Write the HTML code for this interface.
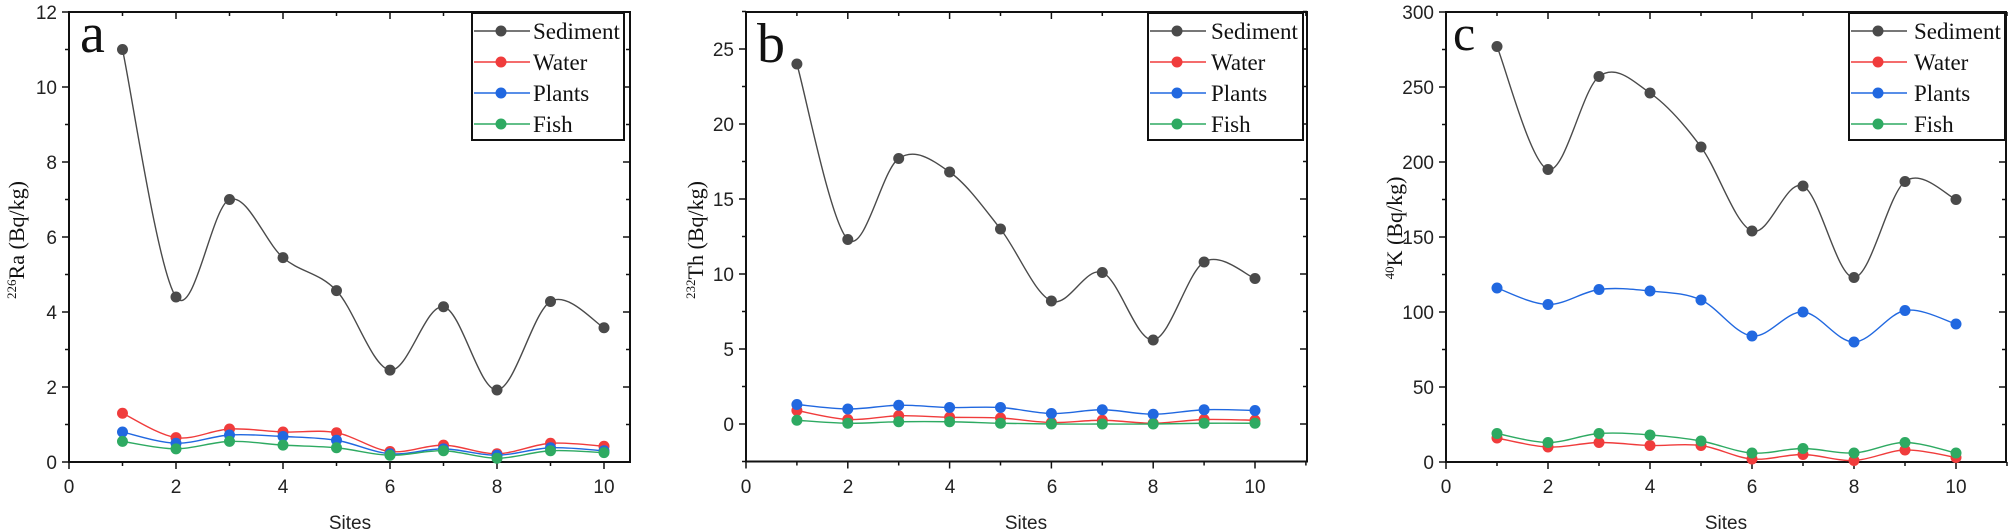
<!DOCTYPE html>
<html><head><meta charset="utf-8"><style>
html,body{margin:0;padding:0;background:#fff;}
svg{display:block;}
.t{font-family:"Liberation Sans",sans-serif;font-size:19px;fill:#222;}
.s{font-family:"Liberation Serif",serif;fill:#111;}
</style></head><body>
<svg id="svg" width="2008" height="530" viewBox="0 0 2008 530" xmlns="http://www.w3.org/2000/svg">
<g id="plots"></g>
<!-- Panel a -->
<g class="t" text-anchor="end">
<text x="57" y="469">0</text><text x="57" y="394">2</text><text x="57" y="319">4</text><text x="57" y="244">6</text><text x="57" y="169">8</text><text x="57" y="94">10</text><text x="57" y="19">12</text>
</g>
<g class="t" text-anchor="middle">
<text x="69" y="493">0</text><text x="176" y="493">2</text><text x="283" y="493">4</text><text x="390" y="493">6</text><text x="497" y="493">8</text><text x="604" y="493">10</text>
<text x="350" y="529">Sites</text>
</g>
<text class="s" x="80" y="52" font-size="56">a</text>
<text class="s" transform="translate(24,240) rotate(-90)" text-anchor="middle" font-size="22"><tspan font-size="13" dy="-8">226</tspan><tspan dy="8">Ra (Bq/kg)</tspan></text>
<!-- Panel b -->
<g class="t" text-anchor="end">
<text x="734" y="431">0</text><text x="734" y="356">5</text><text x="734" y="281">10</text><text x="734" y="206">15</text><text x="734" y="131">20</text><text x="734" y="56">25</text>
</g>
<g class="t" text-anchor="middle">
<text x="746" y="493">0</text><text x="848" y="493">2</text><text x="950" y="493">4</text><text x="1052" y="493">6</text><text x="1153" y="493">8</text><text x="1255" y="493">10</text>
<text x="1026" y="529">Sites</text>
</g>
<text class="s" x="757" y="62" font-size="56">b</text>
<text class="s" transform="translate(703,240) rotate(-90)" text-anchor="middle" font-size="22"><tspan font-size="13" dy="-8">232</tspan><tspan dy="8">Th (Bq/kg)</tspan></text>
<!-- Panel c -->
<g class="t" text-anchor="end">
<text x="1434" y="469">0</text><text x="1434" y="394">50</text><text x="1434" y="319">100</text><text x="1434" y="244">150</text><text x="1434" y="169">200</text><text x="1434" y="94">250</text><text x="1434" y="19">300</text>
</g>
<g class="t" text-anchor="middle">
<text x="1446" y="493">0</text><text x="1548" y="493">2</text><text x="1650" y="493">4</text><text x="1752" y="493">6</text><text x="1854" y="493">8</text><text x="1956" y="493">10</text>
<text x="1726" y="529">Sites</text>
</g>
<text class="s" x="1453" y="50" font-size="50">c</text>
<text class="s" transform="translate(1402,228) rotate(-90)" text-anchor="middle" font-size="22"><tspan font-size="13" dy="-8">40</tspan><tspan dy="8">K (Bq/kg)</tspan></text>
<!-- legends -->
<g class="s" font-size="23">
<text x="533" y="39">Sediment</text><text x="533" y="70">Water</text><text x="533" y="101">Plants</text><text x="533" y="132">Fish</text>
<text x="1211" y="39">Sediment</text><text x="1211" y="70">Water</text><text x="1211" y="101">Plants</text><text x="1211" y="132">Fish</text>
<text x="1914" y="39">Sediment</text><text x="1914" y="70">Water</text><text x="1914" y="101">Plants</text><text x="1914" y="132">Fish</text>
</g>
</svg>
<script>
var NS="http://www.w3.org/2000/svg",G=document.getElementById("plots");
function el(n,a){var e=document.createElementNS(NS,n);for(var k in a)e.setAttribute(k,a[k]);G.appendChild(e);return e;}
var C=["#4a4a4a","#f03c3c","#2168e0","#2eaa62"];
var P=[
{x0:69,xs:53.5,y0:462,ys:37.5,top:12,right:630,ymin:0,ymax:12,maj:2,xr:10.5,leg:[472,624],
d:[[11,4.4,7,5.45,4.57,2.45,4.14,1.92,4.28,3.58],[1.3,.65,.88,.8,.78,.28,.45,.22,.5,.42],[.8,.5,.72,.68,.58,.22,.35,.18,.38,.3],[.55,.35,.55,.45,.38,.18,.3,.1,.3,.25]]},
{x0:746,xs:50.9,y0:424,ys:15,top:12,right:1307,ymin:-2.5,ymax:27.5,maj:5,xr:11,leg:[1148,1303],
d:[[24,12.3,17.7,16.8,13,8.2,10.1,5.6,10.8,9.7],[.9,.3,.55,.45,.4,.1,.25,.05,.3,.25],[1.3,1,1.25,1.1,1.1,.7,.95,.65,.95,.9],[.25,.05,.15,.15,.05,0,0,0,.05,.05]]},
{x0:1446,xs:51,y0:462,ys:1.5,top:12,right:2006,ymin:0,ymax:300,maj:50,xr:11,leg:[1849,2005],
d:[[277,195,257,246,210,154,184,123,187,175],[16,10,13,11,11,2,5,1,8,3],[116,105,115,114,108,84,100,80,101,92],[19,13,19,18,14,6,9,6,13,6]]}];
P.forEach(function(p){
 var bot=p.y0-p.ymin*p.ys;
 el("rect",{x:p.x0,y:p.top,width:p.right-p.x0,height:bot-p.top,fill:"none",stroke:"#111","stroke-width":2});
 var start=Math.ceil(p.ymin/(p.maj/2))*(p.maj/2);
 for(var v=start;v<=p.ymax+1e-9;v+=p.maj/2){var y=p.y0-v*p.ys;var major=Math.abs(v/p.maj-Math.round(v/p.maj))<1e-6;var L=major?7:4;
  el("line",{x1:p.x0-L,x2:p.x0,y1:y,y2:y,stroke:"#111","stroke-width":1.5});
  el("line",{x1:p.right-L,x2:p.right,y1:y,y2:y,stroke:"#111","stroke-width":1.5});}
 for(var i=0;i<=p.xr;i++){var x=p.x0+i*p.xs;var L=i%2==0?7:4;
  el("line",{x1:x,x2:x,y1:bot,y2:bot+L,stroke:"#111","stroke-width":1.5});
  el("line",{x1:x,x2:x,y1:p.top,y2:p.top+L,stroke:"#111","stroke-width":1.5});}
 p.d.forEach(function(ser,si){
  var pts=ser.map(function(v,i){return [p.x0+(i+1)*p.xs,p.y0-v*p.ys];});
  var d="M"+pts[0][0]+","+pts[0][1];
  for(var i=0;i<pts.length-1;i++){var p0=pts[i-1]||pts[i],p1=pts[i],p2=pts[i+1],p3=pts[i+2]||p2;
   d+=" C"+(p1[0]+(p2[0]-p0[0])/6)+","+(p1[1]+(p2[1]-p0[1])/6)+" "+(p2[0]-(p3[0]-p1[0])/6)+","+(p2[1]-(p3[1]-p1[1])/6)+" "+p2[0]+","+p2[1];}
  el("path",{d:d,fill:"none",stroke:C[si],"stroke-width":1.4});
  pts.forEach(function(q){el("circle",{cx:q[0],cy:q[1],r:5.5,fill:C[si]});});
 });
 el("rect",{x:p.leg[0],y:13,width:p.leg[1]-p.leg[0],height:127,fill:"#fff",stroke:"#111","stroke-width":2});
 for(var k=0;k<4;k++){var y=31+k*31;el("line",{x1:p.leg[0]+2,x2:p.leg[0]+58,y1:y,y2:y,stroke:C[k],"stroke-width":1.5});
  el("circle",{cx:p.leg[0]+29,cy:y,r:5.5,fill:C[k]});}
});
</script>
</body></html>
